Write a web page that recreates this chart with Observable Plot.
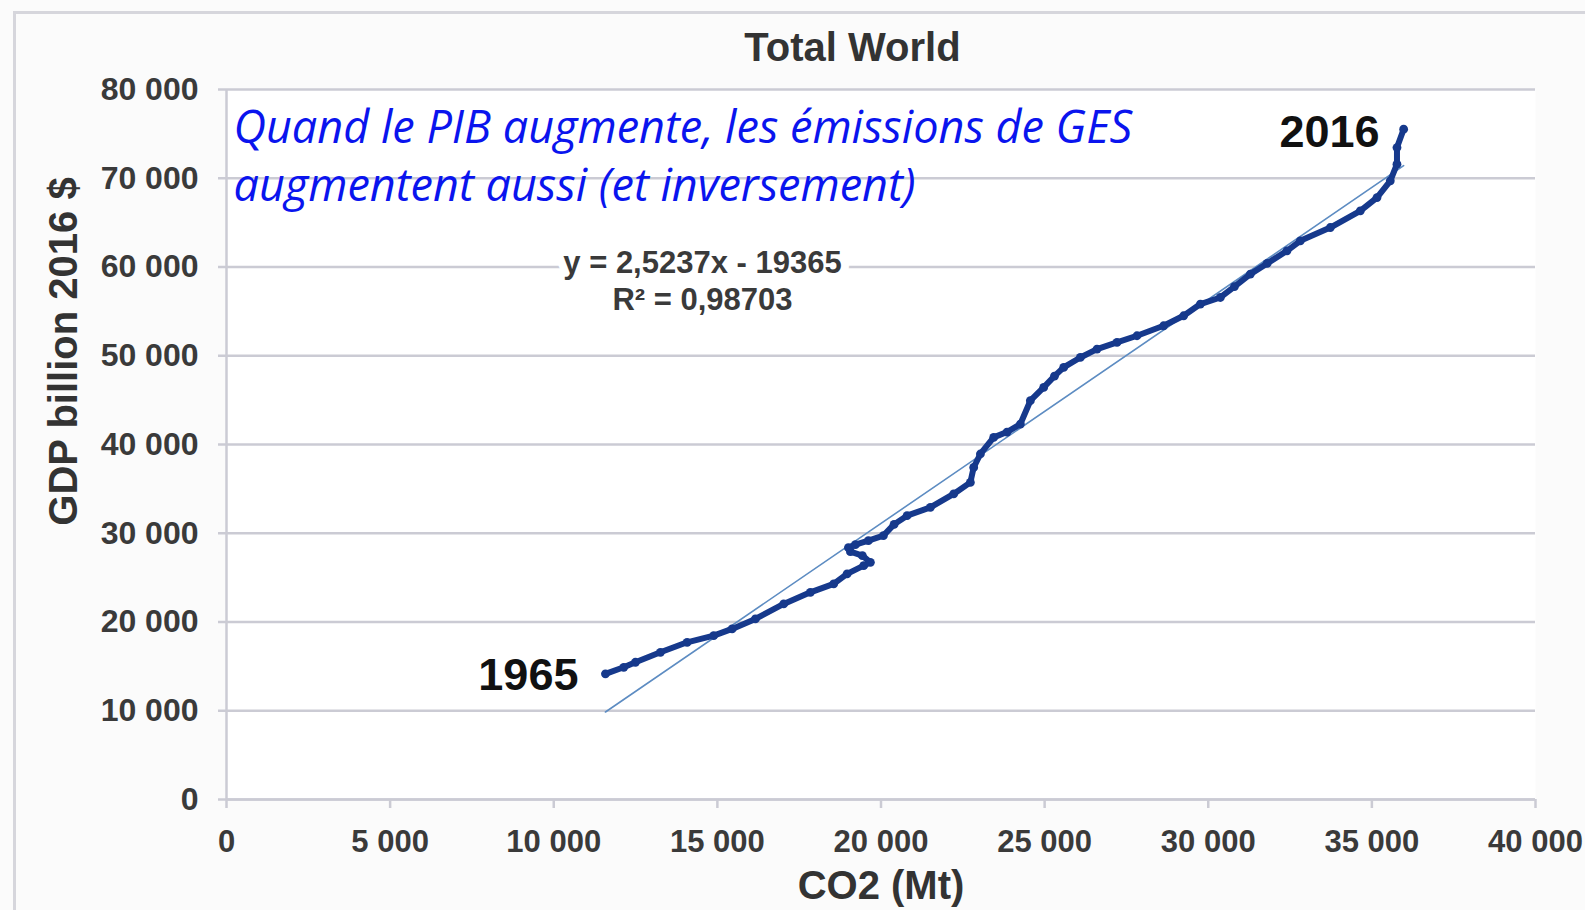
<!DOCTYPE html>
<html><head><meta charset="utf-8">
<script src="https://cdn.jsdelivr.net/npm/d3@7"></script>
<script src="https://cdn.jsdelivr.net/npm/@observablehq/plot@0.6"></script>
<style>
body{margin:0;background:#fbfbfb;}
#wrap{position:relative;width:1585px;height:910px;overflow:hidden;}
#frame{position:absolute;left:13px;top:11px;width:1600px;height:920px;border-left:3px solid #d6d6dc;border-top:3px solid #d6d6dc;background:#fbfbfb}
#chart{position:absolute;left:0;top:0}
</style></head><body>
<div id="wrap"><div id="frame"></div><div id="chart"></div></div>
<script>
// CO2 emissions (Mt), world
const co2 = [11580,12139,12496,13260,14076,14888,15451,16162,17027,17842,18554,18964,19471,
  19676,19431,19065,19004,19218,19615,20073,
  20400,20797,21509,22221,22731,22832,23037,23443,23850,24259,24564,24971,25300,25582,26092,
  26601,27212,27823,28636,29248,29759,30370,30800,31286,31800,32406,32813,33730,34647,35156,
  35563,35767,35767,35971];
// GDP (billion 2016 $), world
const gdp = [14155,14898,15462,16588,17714,18468,19223,20349,22038,23345,24291,25417,26351,
  26723,27477,27928,28378,28716,29167,29730,
  31000,31982,32917,34426,35732,37421,38930,40800,41400,42306,44932,46430,47700,48683,49808,
  50754,51498,52252,53378,54505,55822,56565,57800,59200,60400,61824,62950,64448,66329,67827,
  69707,71588,73457,75529];
const firstYear = "1965";
const lastYear = "2016";
const xTicks = [0,5000,10000,15000,20000,25000,30000,35000,40000];
const yTicks = [0,10000,20000,30000,40000,50000,60000,70000,80000];
const slope = 2.5237;
const intercept = -19365;
const chartTitle = "Total World";
const xLabel = "CO2 (Mt)";
const yLabel = "GDP billion 2016 $";
const eqText = "y = 2,5237x - 19365\nR² = 0,98703";
const note = "Quand le PIB augmente, les émissions de GES\naugmentent aussi (et inversement)";

const data = co2.map((c, i) => ({co2: c, gdp: gdp[i]}));
const xExt = d3.extent(co2);
const reg = xExt.map(x => ({co2: x, gdp: slope * x + intercept}));
const fmt = v => d3.format(",")(v).replace(/,/g, " ");

const navy = "#16398c";
const gridC = "#cbcbd4";
const txtC = "#3a3a3a";

const plot = Plot.plot({
  width: 1585, height: 910,
  marginLeft: 226, marginRight: 50, marginTop: 89, marginBottom: 111,
  style: {background: "transparent", fontFamily: "'Liberation Sans', Arial, sans-serif", fontWeight: "bold", overflow: "visible"},
  x: {domain: [0, 40000]},
  y: {domain: [0, 80000]},
  marks: [
    Plot.frame({fill: "white", stroke: null}),
    Plot.gridY(yTicks, {stroke: gridC, strokeWidth: 2.5, strokeOpacity: 1}),
    Plot.ruleX([0], {stroke: gridC, strokeWidth: 2.5}),
    Plot.ruleY([0], {stroke: gridC, strokeWidth: 2.5}),
    Plot.axisY({ticks: yTicks, tickFormat: fmt, tickSize: 8, tickPadding: 20, fontSize: 32, fill: txtC, stroke: gridC, strokeWidth: 2.5, label: null}),
    Plot.axisX({ticks: xTicks, tickFormat: fmt, tickSize: 9, tickPadding: 21, fontSize: 31, fill: txtC, stroke: gridC, strokeWidth: 2.5, label: null}),
    Plot.text([eqText], {frameAnchor: "top-left", dx: 476, dy: 190, text: d => d, textAnchor: "middle", fontSize: 31, lineHeight: 1.19, lineAnchor: "middle", fill: txtC, stroke: "white", strokeWidth: 16}),
    Plot.line(reg, {x: "co2", y: "gdp", stroke: "#5d8cc2", strokeWidth: 1.6}),
    Plot.line(data, {x: "co2", y: "gdp", stroke: navy, strokeWidth: 6}),
    Plot.dot(data, {x: "co2", y: "gdp", r: 4.4, fill: navy}),
    Plot.text([data[0]], {x: "co2", y: "gdp", text: () => firstYear, textAnchor: "end", dx: -27, dy: 2, fontSize: 45, fill: "#111"}),
    Plot.text([data[data.length - 1]], {x: "co2", y: "gdp", text: () => lastYear, textAnchor: "end", dx: -24, dy: 3, fontSize: 45, fill: "#111"}),
    Plot.text([chartTitle], {frameAnchor: "top-left", dx: 626, dy: -41, text: d => d, textAnchor: "middle", lineAnchor: "middle", fontSize: 40, fill: "#333"}),
    Plot.text([xLabel], {frameAnchor: "bottom", dy: 87, text: d => d, lineAnchor: "middle", fontSize: 40, fill: "#333"}),
    Plot.text([yLabel], {frameAnchor: "left", dx: -162, dy: -93, rotate: -90, textAnchor: "middle", lineAnchor: "middle", text: d => d, fontSize: 40, fill: "#333"}),
    Plot.text([note], {frameAnchor: "top-left", dx: 7, dy: 12, text: d => d, textAnchor: "start", lineAnchor: "top", lineHeight: 1.29, fontSize: 45, fontStyle: "italic", fontWeight: "normal", fontFamily: "'Open Sans', sans-serif", fill: "#0a14ee"})
  ]
});
document.getElementById("chart").appendChild(plot);
</script>
</body></html>
